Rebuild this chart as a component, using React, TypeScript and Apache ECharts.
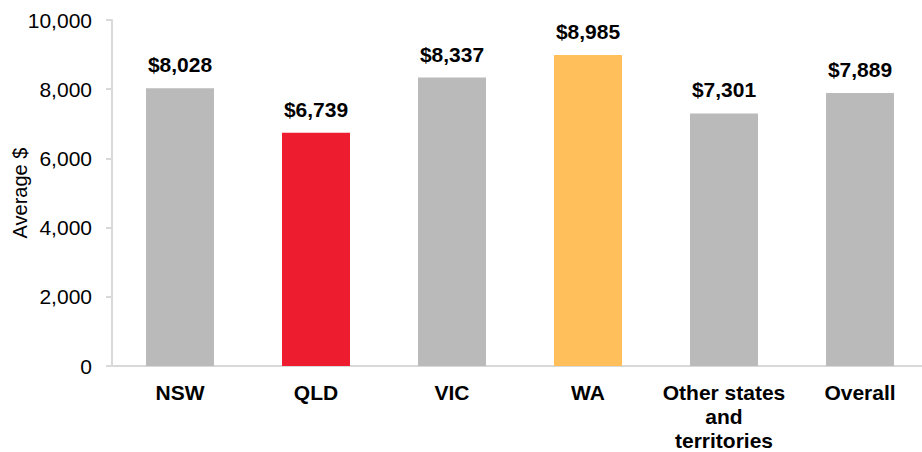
import React, { useEffect, useRef } from "react";
import * as echarts from "echarts";

const categories = ["NSW", "QLD", "VIC", "WA", "Other states\nand\nterritories", "Overall"];
const values = [8028, 6739, 8337, 8985, 7301, 7889];
const barColors = ["#bababa", "#ed1c2e", "#bababa", "#ffbf5a", "#bababa", "#bababa"];
const yTicks = { min: 0, max: 10000, interval: 2000 };
const yAxisTitle = "Average $";

export default function App() {
  const ref = useRef<HTMLDivElement>(null);
  useEffect(() => {
    if (!ref.current) return;
    const chart = echarts.init(ref.current, null, { renderer: "svg" });
    const font = "'Liberation Sans', Arial, sans-serif";
    chart.setOption({
      animation: false,
      grid: { left: 112, top: 20, right: -6, bottom: 86, outerBoundsMode: "none", containLabel: false },
      xAxis: {
        type: "category",
        data: categories,
        axisLine: { lineStyle: { color: "#d9d9d9", width: 2 } },
        axisTick: { show: false },
        axisLabel: {
          interval: 0,
          margin: 14,
          color: "#000",
          fontFamily: font,
          fontSize: 21,
          fontWeight: "bold",
          lineHeight: 24,
        },
      },
      yAxis: {
        type: "value",
        min: yTicks.min,
        max: yTicks.max,
        interval: yTicks.interval,
        name: yAxisTitle,
        nameLocation: "middle",
        nameGap: 82,
        nameMoveOverlap: false,
        nameTextStyle: { color: "#000", fontFamily: font, fontSize: 20 },
        axisLine: { show: true, lineStyle: { color: "#d9d9d9", width: 2 } },
        axisTick: { show: true, length: 6, lineStyle: { color: "#d9d9d9", width: 2 } },
        splitLine: { show: false },
        axisLabel: {
          margin: 20,
          color: "#000",
          fontFamily: font,
          fontSize: 21,
          formatter: (v: number) => v.toLocaleString("en-US"),
        },
      },
      series: [
        {
          type: "bar",
          barWidth: 68,
          data: values.map((v, i) => ({ value: v, itemStyle: { color: barColors[i] } })),
          label: {
            show: true,
            position: "top",
            distance: 13,
            color: "#000",
            fontFamily: font,
            fontSize: 21,
            fontWeight: "bold",
            formatter: (p: any) => "$" + Number(p.value).toLocaleString("en-US"),
          },
        },
      ],
    });
    return () => chart.dispose();
  }, []);
  return (
    <div
      ref={ref}
      style={{ position: "fixed", left: 0, top: 0, width: 922, height: 452, background: "#fff" }}
    />
  );
}
